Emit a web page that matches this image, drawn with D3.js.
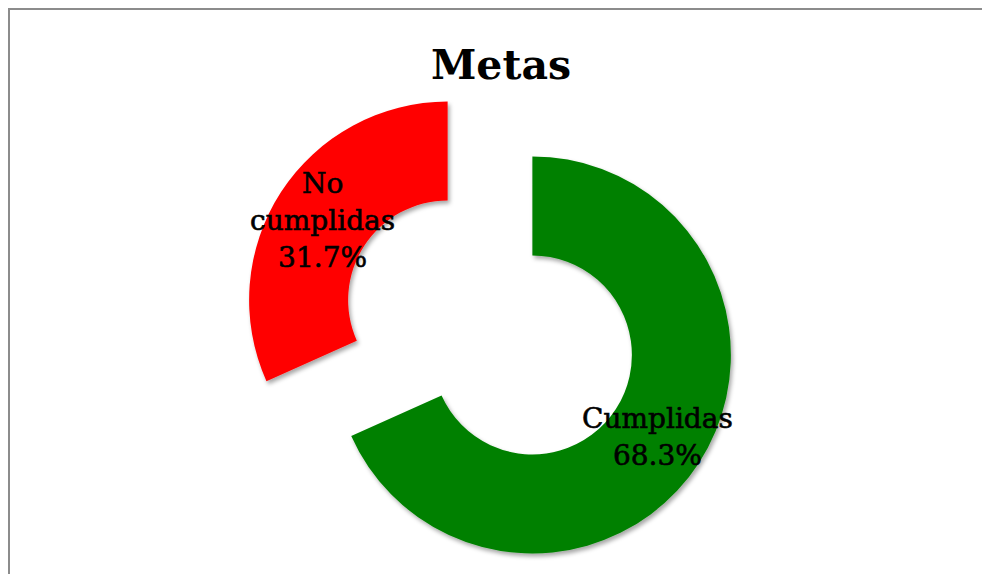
<!DOCTYPE html>
<html>
<head>
<meta charset="utf-8">
<script src="https://cdn.jsdelivr.net/npm/d3@7"></script>
<style>
html,body{margin:0;padding:0;background:#fff;}
svg{display:block;}
</style>
</head>
<body>
<svg id="chart" width="982" height="574"></svg>
<script>
const categories = ["Cumplidas", "No cumplidas"];
const values = [68.3, 31.7];
const labelLines = [["Cumplidas"], ["No", "cumplidas"]];
const colors = ["#008000", "#FF0000"];
const title = "Metas";

const W = 982, H = 574;
const cx = 490, cy = 327.5;
const outerR = 198.5, innerR = 99.5, explode = 50.5;

const svg = d3.select("#chart");

const defs = svg.append("defs");
const f = defs.append("filter").attr("id", "shadow")
  .attr("x", "-20%").attr("y", "-20%").attr("width", "140%").attr("height", "140%");
f.append("feDropShadow").attr("dx", 2).attr("dy", 3).attr("stdDeviation", 2)
  .attr("flood-color", "#000").attr("flood-opacity", 0.35);

svg.append("rect").attr("x", 0).attr("y", 0).attr("width", W).attr("height", H).attr("fill", "#fff");
svg.append("rect").attr("x", 9).attr("y", 9).attr("width", W + 20).attr("height", H + 20)
  .attr("fill", "none").attr("stroke", "#8c8c8c").attr("stroke-width", 2);

svg.append("text").attr("x", 501).attr("y", 79)
  .attr("text-anchor", "middle")
  .attr("font-family", "'DejaVu Serif', serif").attr("font-weight", "bold")
  .attr("font-size", 41).attr("fill", "#000").text(title);

const data = categories.map((c, i) => ({ name: c, value: values[i], lines: labelLines[i], color: colors[i] }));
const pie = d3.pie().value(d => d.value).sort(null);
const arcs = pie(data);
const arc = d3.arc().innerRadius(innerR).outerRadius(outerR);

const g = svg.append("g").attr("transform", `translate(${cx},${cy})`);

const slice = g.selectAll("g.slice").data(arcs).join("g").attr("class", "slice")
  .attr("transform", d => {
    const a = (d.startAngle + d.endAngle) / 2;
    return `translate(${Math.sin(a) * explode},${-Math.cos(a) * explode})`;
  });

slice.append("path").attr("d", arc).attr("fill", d => d.data.color).attr("filter", "url(#shadow)");

const lineH = 37;
slice.each(function (d) {
  const [x, y] = arc.centroid(d);
  const lines = d.data.lines.concat([d.data.value.toFixed(1) + "%"]);
  const t = d3.select(this).append("text")
    .attr("text-anchor", "middle")
    .attr("font-family", "'DejaVu Serif', serif")
    .attr("font-size", 28).attr("fill", "#000")
    .attr("stroke", "#000").attr("stroke-width", 0.6);
  const n = lines.length;
  lines.forEach((ln, i) => {
    t.append("tspan").attr("x", x)
      .attr("y", y + (i - (n - 1) / 2) * lineH + 11)
      .text(ln);
  });
});
</script>
</body>
</html>
